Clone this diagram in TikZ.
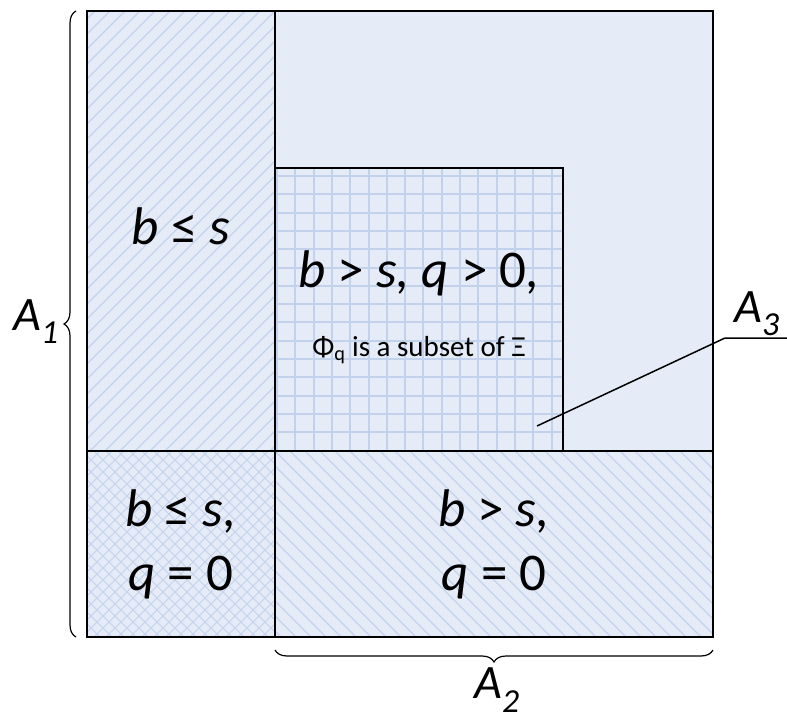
\documentclass[tikz,border=0pt]{standalone}
\usepackage{fontspec}
\setmainfont{Carlito}
\usetikzlibrary{decorations.pathreplacing}
\definecolor{fillblue}{HTML}{E6ECF7}
\definecolor{hatchblue}{HTML}{C2D2EC}
\tikzset{
  hatch/.style={draw=hatchblue,line width=1.1pt},
  gridl/.style={draw=hatchblue,line width=2pt},
  bigtxt/.style={font=\fontsize{53}{60}\selectfont\itshape},
  lbl/.style={font=\fontsize{48}{54}\selectfont\itshape},
  brace/.style={draw=black,line width=1.2pt,decorate,decoration={brace,amplitude=12pt}}
}
\newcommand{\up}[1]{\textup{#1}}
\begin{document}
\begin{tikzpicture}[x=1pt,y=-1pt]
\useasboundingbox (0,0) rectangle (787,722);
% background
\fill[fillblue] (87,11) rectangle (713,637);
% left column hatch
\begin{scope}
\clip (87,11) rectangle (275,451);
\foreach \x in {-360,-345,...,285} \draw[hatch] (\x,451) -- ++(440,-440);
\end{scope}
% bottom-left crosshatch
\begin{scope}
\clip (87,451) rectangle (275,637);
\foreach \x in {-110,-98,...,290} {\draw[hatch,line width=0.9pt] (\x,451) -- ++(186,186);
\draw[hatch,line width=0.9pt] (\x,637) -- ++(186,-186);}
\end{scope}
% bottom-right hatch
\begin{scope}
\clip (275,451) rectangle (713,637);
\foreach \x in {80,95,...,720} \draw[hatch] (\x,451) -- ++(186,186);
\end{scope}
% centre grid
\begin{scope}
\clip (275,168) rectangle (563,451);
\foreach \x in {277,295.3,...,563} \draw[gridl] (\x,168) -- (\x,451);
\foreach \y in {176,194.3,...,451} \draw[gridl] (275,\y) -- (563,\y);
\end{scope}
% outlines
\draw[draw=black,line width=2pt] (87,11) rectangle (713,637);
\draw[draw=black,line width=2pt] (275,11) -- (275,637);
\draw[draw=black,line width=2pt] (87,451) -- (713,451);
\draw[draw=black,line width=2pt] (275,168) -- (563,168) -- (563,451);
% texts
\node[bigtxt] (t1) at (181,226) {b \up{≤} s};
\node[bigtxt] (t2) at (419,273) {b \up{>} s, q \up{>} \up{0},};
\node[font=\fontsize{29}{34}\selectfont] (t3) at (419,350) {Φ\textsubscript{q} is a subset of Ξ};
\node[bigtxt,align=center] (t4) at (181,544) {b \up{≤} s,\\[4pt] q \up{=} \up{0}};
\node[bigtxt,align=center] (t5) at (494,544) {b \up{>} s,\\[4pt] q \up{=} \up{0}};
% braces
\coordinate (b1s) at (76,637);
\coordinate (b1e) at (76,11);
\draw[brace] (b1s) -- (b1e);
\node[lbl] (a1) at (36,322) {A\textsubscript{1}};
\coordinate (b2s) at (713,650);
\coordinate (b2e) at (275,650);
\draw[brace] (b2s) -- (b2e);
\node[lbl] (a2) at (497,690) {A\textsubscript{2}};
% A3
\node[lbl] (a3) at (757,314) {A\textsubscript{3}};
\coordinate (u1) at (787,338);
\coordinate (u2) at (725,338);
\coordinate (p3) at (537,426);
\draw[line width=1.5pt] (u1) -- (u2) -- (p3);
\end{tikzpicture}
\end{document}
